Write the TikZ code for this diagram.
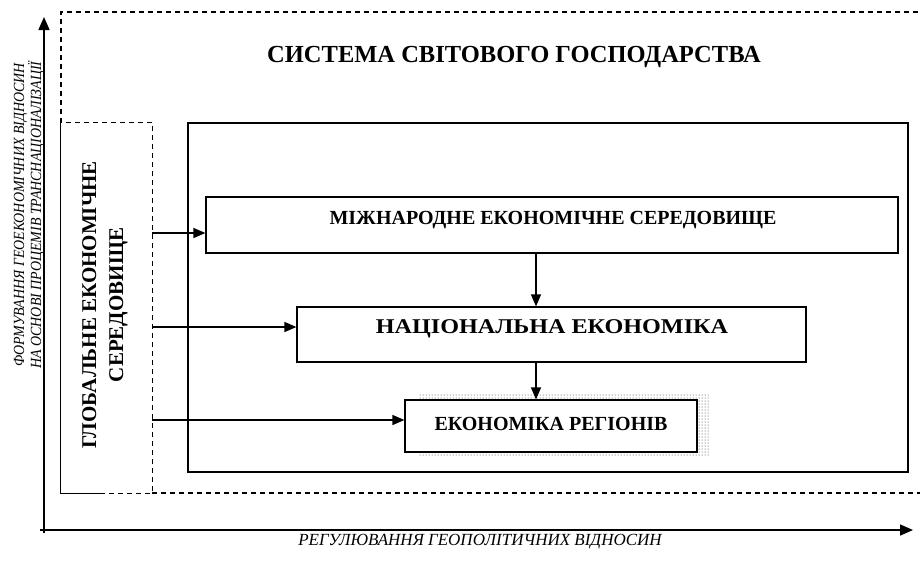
\documentclass[tikz,border=0pt]{standalone}
\usepackage{fontspec}
\setmainfont{Liberation Serif}
\usetikzlibrary{arrows.meta,patterns}
\begin{document}
\begin{tikzpicture}[x=1pt,y=-1pt,
  dsh/.style={line width=1.2pt,dash pattern=on 5pt off 4pt},
  solidbox/.style={draw,line width=1.2pt,fill=white,inner sep=0pt},
  arr/.style={line width=1.4pt,-{Triangle[length=12pt,width=10pt]}},
  axis/.style={line width=1.6pt,-{Triangle[length=13pt,width=11pt]}},
  btext/.style={font=\bfseries\fontsize{20}{22}\selectfont,inner sep=0pt},
  itext/.style={font=\itshape\fontsize{17}{15}\selectfont,inner sep=0pt}]
\useasboundingbox (0,0) rectangle (920,566);
% outer dashed system box
\draw[dsh] (61,123) -- (61,12) -- (920,12);
\draw[dsh] (152,493) -- (920,493);
\node[btext,font=\bfseries\fontsize{24.5}{27}\selectfont] (title) at (514,56.5) {СИСТЕМА СВІТОВОГО ГОСПОДАРСТВА};
% left global box
\node[inner sep=0pt,minimum width=91pt,minimum height=370pt] (gl) at (106.5,308) {};
\draw[line width=1.2pt] (gl.north west) -- (gl.south west) -- (gl.south -| 100,0);
\draw[dsh] (gl.south -| 100,0) -- (gl.south east) -- (gl.north east) -- (gl.north west);
\node[btext,rotate=90,align=center,font=\bfseries\fontsize{21}{27}\selectfont] (gltext) at (105,305) {ГЛОБАЛЬНЕ ЕКОНОМІЧНЕ\\СЕРЕДОВИЩЕ};
% inner solid box
\node[solidbox,minimum width=720pt,minimum height=349pt] (inner) at (548,297.5) {};
% shadow of box 3
\fill[pattern=dots,pattern color=black!80] (418,393) rectangle (710,455);
% boxes
\node[solidbox,minimum width=692pt,minimum height=56pt] (b1) at (552,225) {};
\node[btext] (t1) at (553,220) {МІЖНАРОДНЕ ЕКОНОМІЧНЕ СЕРЕДОВИЩЕ};
\node[solidbox,minimum width=509pt,minimum height=55pt] (b2) at (551.5,334.5) {};
\node[btext,font=\bfseries\fontsize{21}{23}\selectfont,xscale=1.15] (t2) at (552,329) {НАЦІОНАЛЬНА ЕКОНОМІКА};
\node[solidbox,minimum width=292pt,minimum height=52pt] (b3) at (551,426) {};
\node[btext] (t3) at (551,424) {ЕКОНОМІКА РЕГІОНІВ};
% arrows
\coordinate (vx) at (536,0);
\draw[arr] (b1.south -| vx) -- (b2.north -| vx);
\draw[arr] (b2.south -| vx) -- (b3.north -| vx);
\coordinate (h1) at (0,233);
\coordinate (h2) at (0,327);
\coordinate (h3) at (0,420);
\draw[arr] (gl.east |- h1) -- (b1.west |- h1);
\draw[arr] (gl.east |- h2) -- (b2.west |- h2);
\draw[arr] (gl.east |- h3) -- (b3.west |- h3);
% axes
\coordinate (ytop) at (44,17);
\coordinate (xend) at (913,530);
\draw[axis] (40,530) -- (xend);
\draw[axis] (44,533) -- (ytop);
\node[itext,rotate=90,align=center,font=\itshape\fontsize{15.5}{15}\selectfont,xscale=0.9] (ylab) at (29,215) {ФОРМУВАННЯ ГЕОЕКОНОМІЧНИХ ВІДНОСИН\\НА ОСНОВІ ПРОЦЕМІВ ТРАНСНАЦІОНАЛІЗАЦІЇ};
\node[itext] (xlab) at (480,542) {РЕГУЛЮВАННЯ ГЕОПОЛІТИЧНИХ ВІДНОСИН};
\end{tikzpicture}
\end{document}
